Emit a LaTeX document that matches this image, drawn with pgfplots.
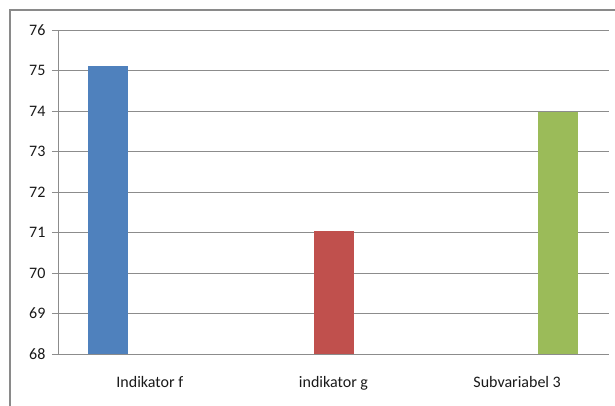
\documentclass[border=0pt]{standalone}
\usepackage{fontspec}
\setmainfont{Carlito}
\usepackage{pgfplots}
\pgfplotsset{compat=1.18}
\definecolor{barblue}{HTML}{4F81BD}
\definecolor{barred}{HTML}{C0504D}
\definecolor{bargreen}{HTML}{9BBB59}
\definecolor{gridgray}{HTML}{8C8C8C}
\definecolor{framegray}{HTML}{8A8A8A}
\begin{document}
\begin{tikzpicture}[x=1pt,y=1pt]
\useasboundingbox (0,0) rectangle (615,405);
% chart area frame
\draw[framegray, line width=1.2pt] (10,-2) -- (10,395) -- (617,395);
\begin{axis}[
  at={(58pt,51pt)}, anchor=south west,
  scale only axis,
  width=551pt, height=324pt,
  ymin=68, ymax=76, ytick={68,...,76},
  xmin=-0.5, xmax=2.5,
  xtick={0,1,2},
  xticklabels={Indikator f, indikator g, Subvariabel 3},
  extra x ticks={-0.5,0.5,1.5,2.5},
  extra x tick labels={},
  extra x tick style={major tick length=6pt, tick style={gridgray, line width=0.8pt}, grid=none},
  x tick style={draw=none},
  y tick style={gridgray, line width=0.8pt},
  major tick length=6pt,
  tick align=outside,
  xtick pos=bottom, ytick pos=left,
  ymajorgrids,
  grid style={gridgray, line width=0.8pt},
  axis line style={gridgray, line width=0.8pt},
  axis x line*=bottom, axis y line*=left,
  every tick label/.append style={font=\fontsize{16}{19}\selectfont, text=black!90},
  xticklabel style={yshift=-13pt},
  yticklabel style={xshift=-3pt},
  /pgf/number format/assume math mode=true,
  ybar, bar width=40pt,
]
% one series per category, clustered as three series side by side
\addplot[fill=barblue, draw=none, bar shift=-41.5pt] coordinates {(0,75.12)};
\addplot[fill=barred, draw=none, bar shift=0pt] coordinates {(1,71.03)};
\addplot[fill=bargreen, draw=none, bar shift=41pt] coordinates {(2,73.98)};
\end{axis}
\end{tikzpicture}
\end{document}
